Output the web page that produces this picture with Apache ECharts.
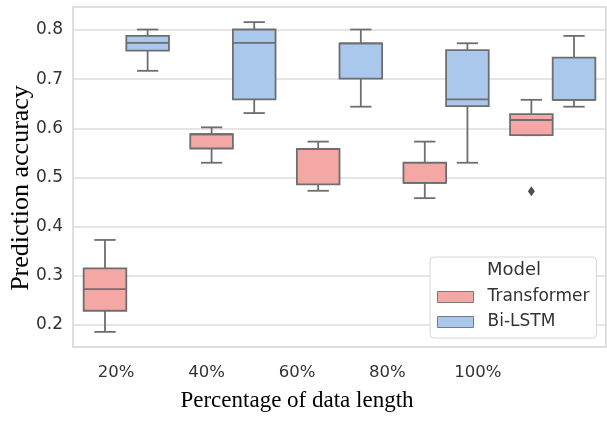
<!DOCTYPE html>
<html>
<head>
<meta charset="utf-8">
<script src="https://cdn.jsdelivr.net/npm/echarts@6/dist/echarts.min.js"></script>
<style>html,body{margin:0;padding:0;background:#fff;}#c{width:607px;height:421px;}</style>
</head>
<body>
<div id="c"></div>
<script>
// ---- data ----
const categories = ['20%', '40%', '60%', '80%', '100%'];
// [lower whisker, Q1, median, Q3, upper whisker]
const transformer = [
  [0.186, 0.229, 0.273, 0.315, 0.373],
  [0.530, 0.559, 0.588, 0.588, 0.602],
  [0.473, 0.486, 0.558, 0.558, 0.573],
  [0.458, 0.489, 0.489, 0.530, 0.573],
  [0.586, 0.586, 0.617, 0.629, 0.658]
];
const bilstm = [
  [0.717, 0.758, 0.774, 0.788, 0.801],
  [0.631, 0.659, 0.774, 0.801, 0.816],
  [0.644, 0.701, 0.773, 0.773, 0.801],
  [0.530, 0.645, 0.659, 0.759, 0.773],
  [0.644, 0.658, 0.658, 0.744, 0.788]
];
// outliers: [category index, value]
const transformerOutliers = [[4, 0.472]];
const yTicks = [0.2, 0.3, 0.4, 0.5, 0.6, 0.7, 0.8];

const redFill = '#F4A8A6';
const blueFill = '#A9C8EC';
const lineColor = '#6e6e6e';

function boxRenderer(sign, fill) {
  return function (params, api) {
    const cat = api.value(0);
    const low = api.value(1), q1 = api.value(2), med = api.value(3), q3 = api.value(4), high = api.value(5);
    const band = api.size([1, 0])[0];
    const w = band * 0.4;
    const cx = api.coord([cat, med])[0] + sign * band * 0.2;
    const yl = api.coord([cat, low])[1];
    const y1 = api.coord([cat, q1])[1];
    const ym = api.coord([cat, med])[1];
    const y3 = api.coord([cat, q3])[1];
    const yh = api.coord([cat, high])[1];
    const ls = { stroke: lineColor, lineWidth: 1.8 };
    return {
      type: 'group',
      children: [
        { type: 'line', shape: { x1: cx, y1: y3, x2: cx, y2: yh }, style: ls },
        { type: 'line', shape: { x1: cx - w / 4, y1: yh, x2: cx + w / 4, y2: yh }, style: ls },
        { type: 'line', shape: { x1: cx, y1: y1, x2: cx, y2: yl }, style: ls },
        { type: 'line', shape: { x1: cx - w / 4, y1: yl, x2: cx + w / 4, y2: yl }, style: ls },
        { type: 'rect', shape: { x: cx - w / 2, y: y3, width: w, height: y1 - y3 },
          style: { fill: fill, stroke: lineColor, lineWidth: 1.8 } },
        { type: 'line', shape: { x1: cx - w / 2, y1: ym, x2: cx + w / 2, y2: ym }, style: ls }
      ]
    };
  };
}

function outlierRenderer(sign) {
  return function (params, api) {
    const cat = api.value(0);
    const v = api.value(1);
    const band = api.size([1, 0])[0];
    const p = api.coord([cat, v]);
    const cx = p[0] + sign * band * 0.2;
    const cy = p[1];
    return {
      type: 'polygon',
      shape: { points: [[cx, cy - 5], [cx + 3.5, cy], [cx, cy + 5], [cx - 3.5, cy]] },
      style: { fill: '#4f4f4f' }
    };
  };
}

const chart = echarts.init(document.getElementById('c'), null, { renderer: 'canvas' });
chart.setOption({
  backgroundColor: '#ffffff',
  animation: false,
  title: {
    text: 'Model', left: 487, top: 261, padding: 0,
    textStyle: { fontFamily: 'DejaVu Sans', fontSize: 18, fontWeight: 'normal', color: '#333' }
  },
  legend: {
    orient: 'vertical', left: 430, top: 257,
    padding: [30, 7, 6, 7],
    itemWidth: 36, itemHeight: 11, itemGap: 5,
    backgroundColor: '#ffffff', borderColor: '#d6d6d6', borderWidth: 1, borderRadius: 4,
    textStyle: { fontFamily: 'DejaVu Sans', fontSize: 17, color: '#333', lineHeight: 20, padding: [0, 0, 0, 9] },
    data: [
      { name: 'Transformer', icon: 'rect', itemStyle: { color: redFill, borderColor: '#7a7a7a', borderWidth: 1 } },
      { name: 'Bi-LSTM', icon: 'rect', itemStyle: { color: blueFill, borderColor: '#7a7a7a', borderWidth: 1 } }
    ]
  },
  grid: [
    { left: 73, right: 1, top: 30, bottom: 96 },
    { left: 73, right: 1, top: 7, bottom: 74, show: true, borderColor: '#d4d4d4', borderWidth: 1.5, z: 0 },
    { left: 64, right: 84, top: 29, bottom: 74 }
  ],
  xAxis: [
    { gridIndex: 0, type: 'category', data: categories,
      axisLine: { show: false }, axisTick: { show: false }, axisLabel: { show: false }, splitLine: { show: false } },
    { gridIndex: 1, type: 'value', show: false },
    { gridIndex: 2, type: 'category', data: categories,
      axisLine: { show: false }, axisTick: { show: false }, splitLine: { show: false },
      axisLabel: { margin: 17, fontFamily: 'DejaVu Sans', fontSize: 16.5, color: '#333' },
      name: 'Percentage of data length', nameLocation: 'middle', nameGap: 42,
      nameTextStyle: { fontFamily: 'Liberation Serif', fontSize: 23, color: '#000' } }
  ],
  yAxis: [
    { gridIndex: 0, type: 'value', min: yTicks[0], max: yTicks[yTicks.length - 1], interval: 0.1,
      axisLine: { show: false }, axisTick: { show: false },
      axisLabel: { margin: 10, fontFamily: 'DejaVu Sans', fontSize: 17, color: '#333',
        formatter: function (v) { return v.toFixed(1); } },
      splitLine: { show: true, lineStyle: { color: '#dcdcdc', width: 1.5 } } },
    { gridIndex: 1, type: 'value', show: false },
    { gridIndex: 2, type: 'value', axisLine: { show: false }, axisTick: { show: false },
      axisLabel: { show: false }, splitLine: { show: false },
      name: 'Prediction accuracy', nameLocation: 'middle', nameGap: 37,
      nameTextStyle: { fontFamily: 'Liberation Serif', fontSize: 26, color: '#000' } }
  ],
  series: [
    { name: 'Transformer', type: 'custom', xAxisIndex: 0, yAxisIndex: 0,
      itemStyle: { color: redFill, borderColor: '#7a7a7a', borderWidth: 1 },
      encode: { x: 0, y: [1, 2, 3, 4, 5] },
      data: transformer.map(function (d, i) { return [i].concat(d); }),
      renderItem: boxRenderer(-1, redFill), z: 3 },
    { name: 'Bi-LSTM', type: 'custom', xAxisIndex: 0, yAxisIndex: 0,
      itemStyle: { color: blueFill, borderColor: '#7a7a7a', borderWidth: 1 },
      encode: { x: 0, y: [1, 2, 3, 4, 5] },
      data: bilstm.map(function (d, i) { return [i].concat(d); }),
      renderItem: boxRenderer(1, blueFill), z: 3 },
    { name: 'outliers', type: 'custom', xAxisIndex: 0, yAxisIndex: 0,
      encode: { x: 0, y: 1 },
      data: transformerOutliers,
      renderItem: outlierRenderer(-1), z: 3 }
  ]
});
</script>
</body>
</html>
